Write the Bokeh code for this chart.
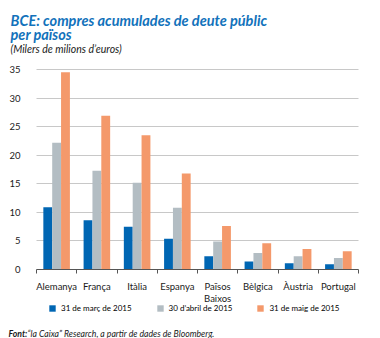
from bokeh.plotting import figure
from bokeh.models import (Range1d, FixedTicker, Label, Legend, LegendItem, ColumnDataSource,
                          LinearAxis, Grid)
from bokeh.transform import dodge
from bokeh.embed import file_html
from bokeh.resources import INLINE

categories = ["Alemanya", "França", "Itàlia", "Espanya", "Països\nBaixos", "Bèlgica", "Àustria", "Portugal"]
marc_2015 = [10.9, 8.6, 7.5, 5.4, 2.3, 1.4, 1.1, 0.9]
abril_2015 = [22.2, 17.3, 15.2, 10.8, 4.9, 2.9, 2.3, 2.0]
maig_2015 = [34.5, 26.9, 23.5, 16.8, 7.6, 4.6, 3.6, 3.2]
series_names = ["31 de març de 2015", "30 d’abril de 2015", "31 de maig de 2015"]
y_ticks = [0, 5, 10, 15, 20, 25, 30, 35]

BLUE = "#0066B3"
GRAY = "#B3BDC3"
ORANGE = "#F4996B"
TITLE_BLUE = "#1272BB"
FONT = "Lato"
TXT = "#1A1A1A"

W, H = 380, 338
# plot area in canvas px
PL, PR, PT, PB = 36, 358, 69, 269
n = len(categories)
YMAX = 35
sx = (PR - PL) / n
sy = (PB - PT) / YMAX

centers = [i + 0.5 for i in range(n)]
src = ColumnDataSource(dict(x=centers, marc=marc_2015, abril=abril_2015, maig=maig_2015))

p = figure(width=W, height=H, output_backend="svg", toolbar_location=None,
           x_range=Range1d(-PL / sx, n + (W - PR) / sx),
           y_range=Range1d(-(H - PB) / sy, YMAX + PT / sy),
           x_axis_location=None, y_axis_location=None,
           min_border=0, min_border_left=0, min_border_right=0,
           min_border_top=0, min_border_bottom=0)
p.outline_line_color = None
p.background_fill_color = "white"
p.border_fill_color = "white"
p.xgrid.visible = False
p.ygrid.visible = False

# grid
grid = Grid(dimension=1, ticker=FixedTicker(ticks=y_ticks[1:]),
            grid_line_color="#C8C8C8", grid_line_width=1, cross_bounds=(0, n))
p.add_layout(grid)

w = 0.22
r1 = p.vbar(x=dodge("x", -w, range=p.x_range), top="marc", width=w, source=src,
            fill_color=BLUE, line_color=None)
r2 = p.vbar(x=dodge("x", 0, range=p.x_range), top="abril", width=w, source=src,
            fill_color=GRAY, line_color=None)
r3 = p.vbar(x=dodge("x", w, range=p.x_range), top="maig", width=w, source=src,
            fill_color=ORANGE, line_color=None)

# x axis
xa = LinearAxis(fixed_location=0, bounds=(0, n))
xa.ticker = FixedTicker(ticks=centers, minor_ticks=list(range(n + 1)))
xa.major_label_overrides = {c: lab for c, lab in zip(centers, categories)}
xa.major_tick_out = 0
xa.major_tick_in = 0
xa.minor_tick_out = 4
xa.minor_tick_in = 0
xa.minor_tick_line_color = "#555555"
xa.axis_line_color = "#555555"
xa.major_label_standoff = 7
xa.major_label_text_font = FONT
xa.major_label_text_font_size = "9.5px"
xa.major_label_text_color = TXT
xa.major_label_text_line_height = 1.15
p.add_layout(xa, "below")

# y axis
ya = LinearAxis(fixed_location=0, bounds=(0, YMAX))
ya.ticker = FixedTicker(ticks=y_ticks)
ya.axis_line_color = None
ya.major_tick_line_color = None
ya.minor_tick_line_color = None
ya.major_label_standoff = 10
ya.major_label_text_font = FONT
ya.major_label_text_font_size = "9.5px"
ya.major_label_text_color = TXT
p.add_layout(ya, "left")

legend = Legend(items=[LegendItem(label=series_names[0], renderers=[r1]),
                       LegendItem(label=series_names[1], renderers=[r2]),
                       LegendItem(label=series_names[2], renderers=[r3])],
                orientation="horizontal", location=(48, H - 313),
                border_line_color=None, background_fill_alpha=0,
                glyph_width=8, glyph_height=8, label_standoff=5, spacing=24,
                padding=0, margin=0,
                label_text_font=FONT, label_text_font_size="8px",
                label_text_font_style="normal", label_text_color="#000000",
                label_height=8)
p.add_layout(legend, "center")


def lab(x, y, text, size, style, color):
    # x, y: canvas pixels from the top-left
    p.add_layout(Label(x=x, y=H - y, x_units="screen", y_units="screen",
                       text=text, text_font=FONT, text_font_size=size,
                       text_font_style=style, text_color=color,
                       text_baseline="alphabetic"))


lab(10, 20, "BCE: compres acumulades de deute públic", "14.5px", "bold italic", TITLE_BLUE)
lab(10, 34, "per països", "14.5px", "bold italic", TITLE_BLUE)
lab(10, 48.5, "(Milers de milions d’euros)", "10.5px", "italic", TXT)
lab(8, 333, "Font:", "8.7px", "bold italic", TXT)
lab(27, 333, "“la Caixa” Research, a partir de dades de Bloomberg.", "8.7px", "italic", TXT)

open("out.html", "w").write(file_html(p, INLINE))
